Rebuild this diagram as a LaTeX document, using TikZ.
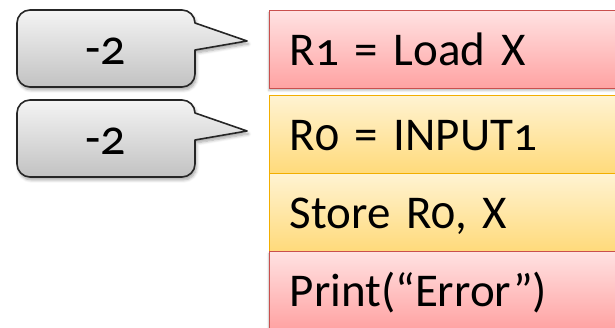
\documentclass[tikz,border=0pt]{standalone}
\usepackage{fontspec}
\setmainfont{Carlito}[Numbers=OldStyle]
\usetikzlibrary{shadows.blur}

\definecolor{calltop}{HTML}{F4F4F4}
\definecolor{callbot}{HTML}{C2C2C2}
\definecolor{redtop}{HTML}{FFE2E2}
\definecolor{redbot}{HTML}{FFA2A2}
\definecolor{redline}{HTML}{C9504E}
\definecolor{yeltop}{HTML}{FFF3D2}
\definecolor{yelbot}{HTML}{FFDA7A}
\definecolor{yelline}{HTML}{F2AE00}

% large instruction font with tight word spacing
\newcommand\instrfont{\fontsize{47}{47}\selectfont\spaceskip=6pt\relax}

\tikzset{
  x=1pt, y=1pt,
  calloutbody/.style={draw=black!85, line width=1.6pt, line join=round,
    top color=calltop, bottom color=callbot,
    blur shadow={shadow xshift=1.5pt, shadow yshift=-3pt, shadow blur steps=6,
      shadow blur radius=3pt, shadow opacity=35}},
  callouttext/.style={font=\fontsize{50}{50}\selectfont, anchor=base, inner sep=0pt},
  instr/.style={anchor=north west, rectangle, line width=1.4pt,
    minimum height=78pt, text width=330pt, align=left, inner xsep=20pt,
    text height=31pt, text depth=0pt, font=\instrfont},
  redbox/.style={instr, draw=redline, top color=redtop, bottom color=redbot,
    blur shadow={shadow xshift=-1pt, shadow yshift=-2pt, shadow blur steps=4,
      shadow blur radius=2pt, shadow opacity=25}},
  yelbox/.style={instr, draw=yelline, top color=yeltop, bottom color=yelbot},
}

\begin{document}
\begin{tikzpicture}
\clip (0,0) rectangle (615,328);
\useasboundingbox (0,0) rectangle (615,328);

% instruction boxes (right column)
\node[redbox] (load)  at (269,318) {R1 = Load X};
\node[yelbox] (input) at (269,233) {R0 = INPUT1};
\node[yelbox] (store) at (269,155) {Store R0, X};
\node[redbox] (print) at (269,77)  {Print(“Error”)};

% speech-bubble callouts pointing at the first two instructions
\foreach \dy/\nm in {0/a, 90/b}{
  \begin{scope}[yshift=-\dy pt]
    \coordinate (tip\nm) at (247,287);
    \path[calloutbody]
      (30,318) -- (182,318) arc[start angle=90, end angle=0, radius=13]
      -- (tip\nm) -- (195,278) -- (195,254)
      arc[start angle=0, end angle=-90, radius=13]
      -- (30,241) arc[start angle=270, end angle=180, radius=13]
      -- (17,305) arc[start angle=180, end angle=90, radius=13] -- cycle;
    \node[callouttext] (val\nm) at (106,263) {-2};
  \end{scope}
}
\end{tikzpicture}
\end{document}
